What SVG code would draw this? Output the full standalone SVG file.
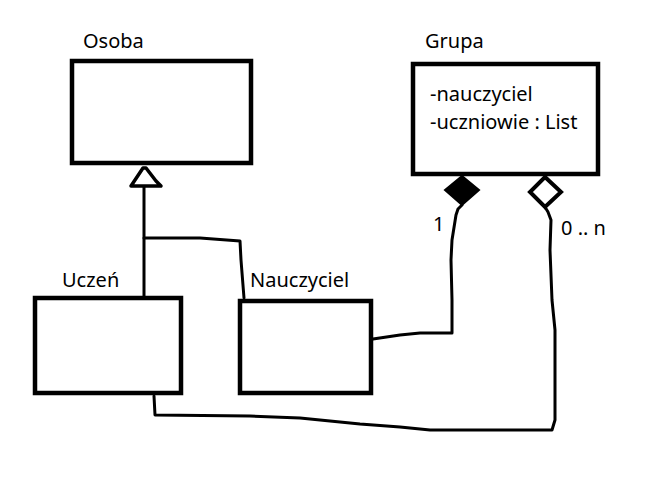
<svg xmlns="http://www.w3.org/2000/svg" width="650" height="493" viewBox="0 0 650 493">
<style>
.box{fill:#fff;stroke:#000;stroke-width:4.5}
.t{font-family:"Noto Sans","Open Sans",sans-serif;font-size:20px;fill:#000}
.c{fill:none;stroke:#000;stroke-width:3;stroke-linejoin:round;stroke-linecap:round}
</style>
<rect width="650" height="493" fill="#fff"/>
<g id="connectors">
<polyline class="c" points="144,187 144,296"/>
<polyline class="c" points="144,238 200,238 240,241 241,260 244,298"/>
<polyline class="c" points="373,339 400,335 420,333 452,333 452,300 451,260 452,240 456,215 458,209 462,205"/>
<polyline class="c" points="154,396 155,415 250,416 300,418 360,424 400,427 430,430 552,430 555,420 555,330 552,300 550,250 551,220 548,212 545,207"/>
<path d="M131,186 L143,168 L146,168 L156,181 L161,186 Z" fill="none" stroke="#000" stroke-width="3.5" stroke-linejoin="round"/>
<polygon points="462,176 479,190 462,205 445,190" fill="#000" stroke="#000" stroke-width="2"/>
<polygon points="545,177 561,192 545,207 530,192" fill="#fff" stroke="#000" stroke-width="4"/>
<text class="t" x="433" y="231">1</text>
<text class="t" x="561" y="235">0 .. n</text>
</g>
<g id="osoba">
<rect class="box" x="72" y="61" width="179" height="102"/>
<text class="t" x="83" y="48">Osoba</text>
</g>
<g id="grupa">
<rect class="box" x="413" y="64" width="185" height="110"/>
<text class="t" x="425" y="48">Grupa</text>
<text class="t" x="430" y="101">-nauczyciel</text>
<text class="t" x="430" y="129">-uczniowie : List</text>
</g>
<g id="uczen">
<rect class="box" x="35" y="298" width="146" height="95"/>
<text class="t" x="62" y="287">Uczeń</text>
</g>
<g id="nauczyciel">
<rect class="box" x="240" y="301" width="131" height="92"/>
<text class="t" x="250" y="287">Nauczyciel</text>
</g>
</svg>
